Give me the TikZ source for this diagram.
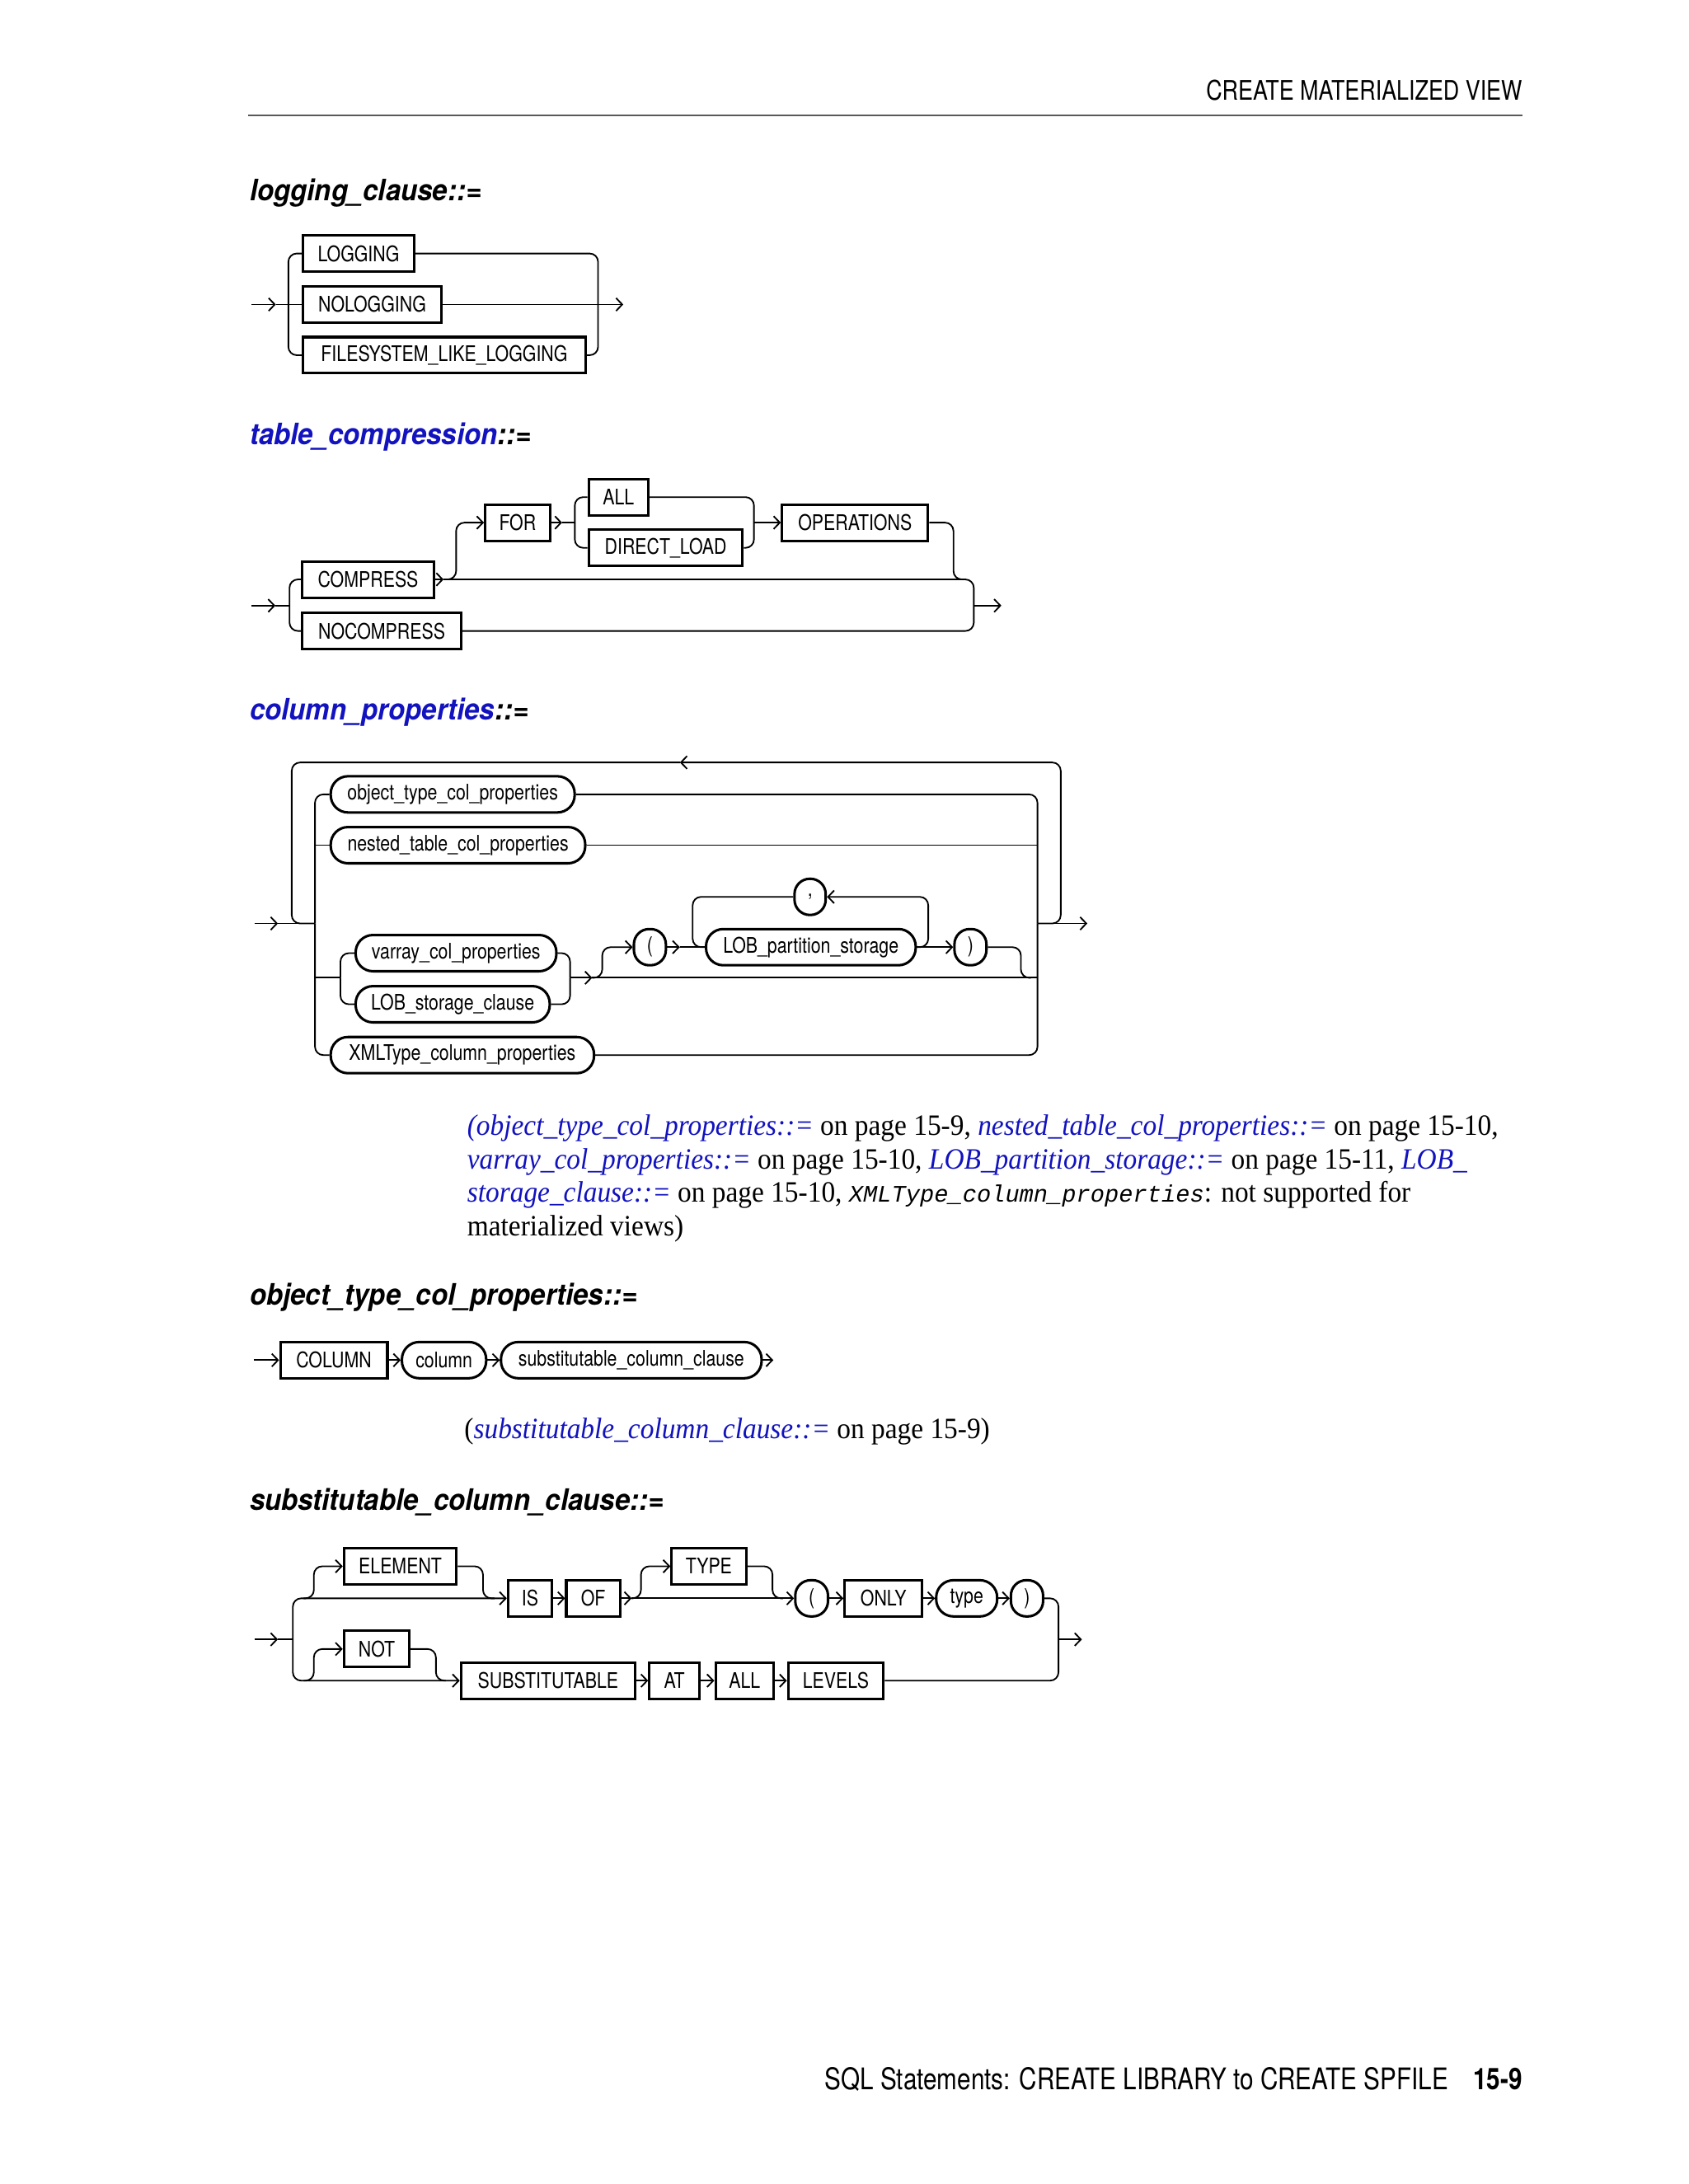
\documentclass[tikz,border=0pt]{standalone}
\usepackage{fontspec}
\setmainfont{Liberation Serif}[FakeStretch=0.932]
\setsansfont{TeX Gyre Heros}[FakeStretch=0.82]
\setmonofont{Liberation Mono}
\newfontfamily\headfam{TeX Gyre Heros}[FakeStretch=0.92]
\usetikzlibrary{arrows.meta}
\definecolor{oblue}{RGB}{18,18,190}
\newcommand\kwfont{\sffamily\fontsize{7.7}{9}\selectfont}
\newcommand\hdfont{\headfam\bfseries\itshape\fontsize{10.6}{13}\selectfont}
\newcommand\lnk[1]{\textcolor{oblue}{\textit{#1}}}
\begin{document}
\begin{tikzpicture}[x=0.5pt, y=-0.5pt, >={Straight Barb[length=2.2pt,width=4.6pt]},
	wire/.style={line width=0.55pt, rounded corners=3pt},
	kw/.style={draw, line width=0.9pt, minimum height=13pt, inner xsep=1pt, inner ysep=0pt, anchor=west, font=\kwfont},
	nt/.style={kw, rounded corners=6.2pt},
	sym/.style={kw, rounded corners=5.5pt, anchor=center, minimum width=11.5pt},
	hd/.style={anchor=base west, inner sep=0pt, font=\hdfont}]
				% 页面
				\fill[white] (0,0) rectangle (1212,1568);
				\useasboundingbox (0,0) rectangle (1212,1568);
				
				% 页眉
				\node[anchor=base east, inner sep=0pt, font=\sffamily\fontsize{9.7}{11}\selectfont] (hdr) at (1093,72) {CREATE MATERIALIZED VIEW};
				\draw[gray!70!black, line width=0.5pt] (178,83) -- (1093,83);
				
				% logging_clause
				\node[hd] (h-log) at (179,144) {logging\_clause::=};
				\node[kw, minimum width=40pt] (log1) at (216.5,182) {LOGGING};
				\node[kw, minimum width=49.75pt] (log2) at (216.5,218.6) {NOLOGGING};
				\node[kw, minimum width=101.5pt] (log3) at (216.5,255) {FILESYSTEM\_LIKE\_LOGGING};
				\coordinate (log-in) at (180.5,218.6);
				\coordinate (log-a) at (198,218.6);
				\coordinate (log-f) at (207,218.6);
				\coordinate (log-j) at (429.3,218.6);
				\coordinate (log-out) at (447.4,218.6);
				\draw[wire,->] (log-in) -- (log-a);
				\draw[wire] (log-a) -- (log2.west);
				\draw[wire] (log-f) |- (log1.west);
				\draw[wire] (log-f) |- (log3.west);
				\draw[wire] (log1.east) -| (log-j);
				\draw[wire] (log3.east) -| (log-j);
				\draw[wire,->] (log2.east) -- (log-out);
				
				% table_compression
				\node[hd] (h-tc) at (179,319) {\textcolor{oblue}{table\_compression}::=};
				\node[kw, minimum width=47.1pt] (tc-cmp) at (216.2,416) {COMPRESS};
				\node[kw, minimum width=56.9pt] (tc-nocmp) at (216.2,453) {NOCOMPRESS};
				\node[kw, minimum width=23.2pt] (tc-for) at (347.4,375.2) {FOR};
				\node[kw, minimum width=21.35pt] (tc-all) at (421.7,356.9) {ALL};
				\node[kw, minimum width=55.25pt] (tc-dl) at (421.7,393.3) {DIRECT\_LOAD};
				\node[kw, minimum width=52.35pt] (tc-ops) at (560.5,375.2) {OPERATIONS};
				\coordinate (tc-in) at (180.7,434.8);
				\coordinate (tc-a) at (197.7,434.8);
				\coordinate (tc-f) at (207.8,434.8);
				\coordinate (tc-c) at (318.4,416);
				\coordinate (tc-up) at (327.4,375.2);
				\coordinate (tc-b) at (403.5,375.2);
				\coordinate (tc-g) at (412.6,375.2);
				\coordinate (tc-k) at (541.2,375.2);
				\coordinate (tc-d) at (684.4,416);
				\coordinate (tc-e) at (693,416);
				\coordinate (tc-j) at (699,434.8);
				\coordinate (tc-out) at (718.8,434.8);
				\draw[wire,->] (tc-in) -- (tc-a);
				\draw[wire] (tc-a) -- (tc-f);
				\draw[wire] (tc-f) |- (tc-cmp.west);
				\draw[wire] (tc-f) |- (tc-nocmp.west);
				\draw[wire,->] (tc-cmp.east) -- (tc-c);
				\draw[wire,->] (tc-c) -| (tc-up) -- (tc-for.west);
				\draw[wire,->] (tc-for.east) -- (tc-b);
				\draw[wire] (tc-b) -- (tc-g);
				\draw[wire] (tc-g) |- (tc-all.west);
				\draw[wire] (tc-g) |- (tc-dl.west);
				\draw[wire] (tc-all.east) -| (tc-k);
				\draw[wire] (tc-dl.east) -| (tc-k);
				\draw[wire,->] (tc-k) -- (tc-ops.west);
				\draw[wire] (tc-ops.east) -| (tc-d) -- (tc-e);
				\draw[wire] (tc-c) -| (tc-j);
				\draw[wire] (tc-nocmp.east) -| (tc-j);
				\draw[wire,->] (tc-j) -- (tc-out);
				
				% column_properties
				\node[hd] (h-cp) at (179,517) {\textcolor{oblue}{column\_properties}::=};
				\node[nt, minimum width=87.55pt] (cp-otcp) at (236.5,570.3) {object\_type\_col\_properties};
				\node[nt, minimum width=91.35pt] (cp-ntcp) at (236.5,606.8) {nested\_table\_col\_properties};
				\node[nt, minimum width=72.05pt] (cp-vcp) at (254.4,684.3) {varray\_col\_properties};
				\node[nt, minimum width=69.65pt] (cp-lsc) at (254.4,721) {LOB\_storage\_clause};
				\node[nt, minimum width=94.5pt] (cp-xml) at (236.5,757.5) {XMLType\_column\_properties};
				\node[sym] (cp-lp) at (466.5,680) {(};
				\node[nt, minimum width=75.25pt] (cp-lps) at (505.9,680) {LOB\_partition\_storage};
				\node[sym, minimum width=11.2pt] (cp-comma) at (581.5,643.9) {,};
				\node[sym] (cp-rp) at (696.6,680) {)};
				\coordinate (cp-in) at (182.7,663);
				\coordinate (cp-a) at (199.5,663);
				\coordinate (cp-ol) at (209.4,663);
				\coordinate (cp-l) at (226.1,663);
				\coordinate (cp-l2) at (226.1,606.8);
				\coordinate (cp-l3) at (226.1,702);
				\coordinate (cp-g) at (244.4,702);
				\coordinate (cp-m) at (409.2,702);
				\coordinate (cp-h) at (425.1,702);
				\coordinate (cp-p) at (432.3,680);
				\coordinate (cp-q) at (488,680);
				\coordinate (cp-t) at (497.2,680);
				\coordinate (cp-s) at (666.3,643.9);
				\coordinate (cp-u) at (732.8,702);
				\coordinate (cp-v) at (740,702);
				\coordinate (cp-r) at (744.7,663);
				\coordinate (cp-r2) at (744.7,606.8);
				\coordinate (cp-r3) at (744.7,702);
				\coordinate (cp-rt) at (761.4,547.4);
				\coordinate (cp-top) at (488,547.4);
				\coordinate (cp-out) at (780.5,663);
				\draw[wire,->] (cp-in) -- (cp-a);
				\draw[wire] (cp-a) -- (cp-l);
				\draw[wire,->] (cp-r) -| (cp-rt) -- (cp-top);
				\draw[wire] (cp-top) -| (cp-ol) -- (cp-l);
				\draw[wire] (cp-l) |- (cp-otcp.west);
				\draw[wire] (cp-l) |- (cp-xml.west);
				\draw[wire] (cp-l2) -- (cp-ntcp.west);
				\draw[wire] (cp-l3) -- (cp-g);
				\draw[wire] (cp-g) |- (cp-vcp.west);
				\draw[wire] (cp-g) |- (cp-lsc.west);
				\draw[wire] (cp-vcp.east) -| (cp-m);
				\draw[wire] (cp-lsc.east) -| (cp-m);
				\draw[wire,->] (cp-m) -- (cp-h);
				\draw[wire] (cp-h) -- (cp-r3);
				\draw[wire,->] (cp-h) -| (cp-p) -- (cp-lp.west);
				\draw[wire,->] (cp-lp.east) -- (cp-q);
				\draw[wire] (cp-q) -- (cp-lps.west);
				\draw[wire,->] (cp-lps.east) -| (cp-s) -- (cp-comma.east);
				\draw[wire] (cp-comma.west) -| (cp-t) -- (cp-lps.west);
				\draw[wire,->] (cp-lps.east) -- (cp-rp.west);
				\draw[wire] (cp-rp.east) -| (cp-u) -- (cp-v);
				\draw[wire] (cp-otcp.east) -| (cp-r);
				\draw[wire] (cp-xml.east) -| (cp-r);
				\draw[wire] (cp-ntcp.east) -- (cp-r2);
				\draw[wire,->] (cp-r) -- (cp-out);
				
				% 注释一
				\node[anchor=north west, align=left, inner sep=0pt, font=\fontsize{10.6}{12}\selectfont] (note1) at (335,800)
					{\lnk{(object\_type\_col\_properties::=} on page 15-9, \lnk{nested\_table\_col\_properties::=} on page 15-10,\\
					\lnk{varray\_col\_properties::=} on page 15-10, \lnk{LOB\_partition\_storage::=} on page 15-11, \lnk{LOB\_}\\
					\lnk{storage\_clause::=} on page 15-10, {\ttfamily\itshape\fontsize{8.5}{12}\selectfont XMLType\_column\_properties}: not supported for\\
					materialized views)};
				
				% object_type_col_properties
				\node[hd] (h-ot) at (179,937) {object\_type\_col\_properties::=};
				\node[kw, minimum width=38.45pt] (ot-col) at (200.3,976.5) {COLUMN};
				\node[nt, minimum width=30.25pt] (ot-name) at (287.6,976.5) {column};
				\node[nt, minimum width=93.55pt] (ot-scc) at (358.7,976.5) {substitutable\_column\_clause};
				\coordinate (ot-in) at (182.2,976.5);
				\coordinate (ot-out) at (555.1,976.5);
				\draw[wire,->] (ot-in) -- (ot-col.west);
				\draw[wire,->] (ot-col.east) -- (ot-name.west);
				\draw[wire,->] (ot-name.east) -- (ot-scc.west);
				\draw[wire,->] (ot-scc.east) -- (ot-out);
				
				% 注释二
				\node[anchor=base west, inner sep=0pt, font=\fontsize{10.6}{12}\selectfont] (note2) at (333,1033)
					{(\lnk{substitutable\_column\_clause::=} on page 15-9)};
				
				% substitutable_column_clause
				\node[hd] (h-sc) at (179,1084) {substitutable\_column\_clause::=};
				\node[kw, minimum width=40.4pt] (sc-el) at (246,1124.5) {ELEMENT};
				\node[kw, minimum width=15.75pt] (sc-is) at (363.8,1147.5) {IS};
				\node[kw, minimum width=19.3pt] (sc-of) at (405.6,1147.5) {OF};
				\node[kw, minimum width=26.7pt] (sc-ty) at (481.2,1124.5) {TYPE};
				\node[sym, minimum width=11.75pt] (sc-lp) at (582.6,1147.5) {(};
				\node[kw, minimum width=27.85pt] (sc-only) at (605.4,1147.5) {ONLY};
				\node[nt, minimum width=21.9pt] (sc-type) at (671.1,1147.5) {type};
				\node[sym, minimum width=11.55pt] (sc-rp) at (737.2,1147.5) {)};
				\node[kw, minimum width=23.5pt] (sc-not) at (246,1183.9) {NOT};
				\node[kw, minimum width=62.5pt] (sc-sub) at (330,1206.6) {SUBSTITUTABLE};
				\node[kw, minimum width=17.9pt] (sc-at) at (465.3,1206.6) {AT};
				\node[kw, minimum width=20.9pt] (sc-all) at (512.7,1206.6) {ALL};
				\node[kw, minimum width=34.25pt] (sc-lev) at (564.8,1206.6) {LEVELS};
				\coordinate (sc-in) at (182.7,1177);
				\coordinate (sc-a) at (199.5,1177);
				\coordinate (sc-f) at (210.2,1177);
				\coordinate (sc-e1) at (218,1147.5);
				\coordinate (sc-e2) at (225.3,1124.5);
				\coordinate (sc-e3) at (346.7,1147.5);
				\coordinate (sc-e4) at (355,1147.5);
				\coordinate (sc-b) at (453.4,1147.5);
				\coordinate (sc-t1) at (460.1,1124.5);
				\coordinate (sc-t2) at (554.5,1147.5);
				\coordinate (sc-t3) at (562,1147.5);
				\coordinate (sc-n1) at (218,1206.6);
				\coordinate (sc-n2) at (225.3,1183.9);
				\coordinate (sc-n3) at (312.9,1206.6);
				\coordinate (sc-n4) at (320,1206.6);
				\coordinate (sc-j) at (759.8,1177);
				\coordinate (sc-out) at (776.6,1177);
				\draw[wire,->] (sc-in) -- (sc-a);
				\draw[wire] (sc-a) -- (sc-f);
				\draw[wire,->] (sc-f) |- (sc-is.west);
				\draw[wire,->] (sc-e1) -| (sc-e2) -- (sc-el.west);
				\draw[wire] (sc-el.east) -| (sc-e3) -- (sc-e4);
				\draw[wire,->] (sc-is.east) -- (sc-of.west);
				\draw[wire,->] (sc-of.east) -- (sc-b);
				\draw[wire,->] (sc-b) -- (sc-lp.west);
				\draw[wire,->] (sc-b) -| (sc-t1) -- (sc-ty.west);
				\draw[wire] (sc-ty.east) -| (sc-t2) -- (sc-t3);
				\draw[wire,->] (sc-lp.east) -- (sc-only.west);
				\draw[wire,->] (sc-only.east) -- (sc-type.west);
				\draw[wire,->] (sc-type.east) -- (sc-rp.west);
				\draw[wire] (sc-rp.east) -| (sc-j);
				\draw[wire,->] (sc-f) |- (sc-sub.west);
				\draw[wire,->] (sc-n1) -| (sc-n2) -- (sc-not.west);
				\draw[wire] (sc-not.east) -| (sc-n3) -- (sc-n4);
				\draw[wire,->] (sc-sub.east) -- (sc-at.west);
				\draw[wire,->] (sc-at.east) -- (sc-all.west);
				\draw[wire,->] (sc-all.east) -- (sc-lev.west);
				\draw[wire] (sc-lev.east) -| (sc-j);
				\draw[wire,->] (sc-j) -- (sc-out);
				
				% 页脚
				\node[anchor=base east, inner sep=0pt, font=\sffamily\bfseries\fontsize{10.7}{13}\selectfont] (pgno) at (1093,1500) {15-9};
				\node[anchor=base east, inner sep=0pt, font=\sffamily\fontsize{10.7}{13}\selectfont] (foot) at (1040,1500) {SQL Statements: CREATE LIBRARY to CREATE SPFILE};
			\end{tikzpicture}
\end{document}
